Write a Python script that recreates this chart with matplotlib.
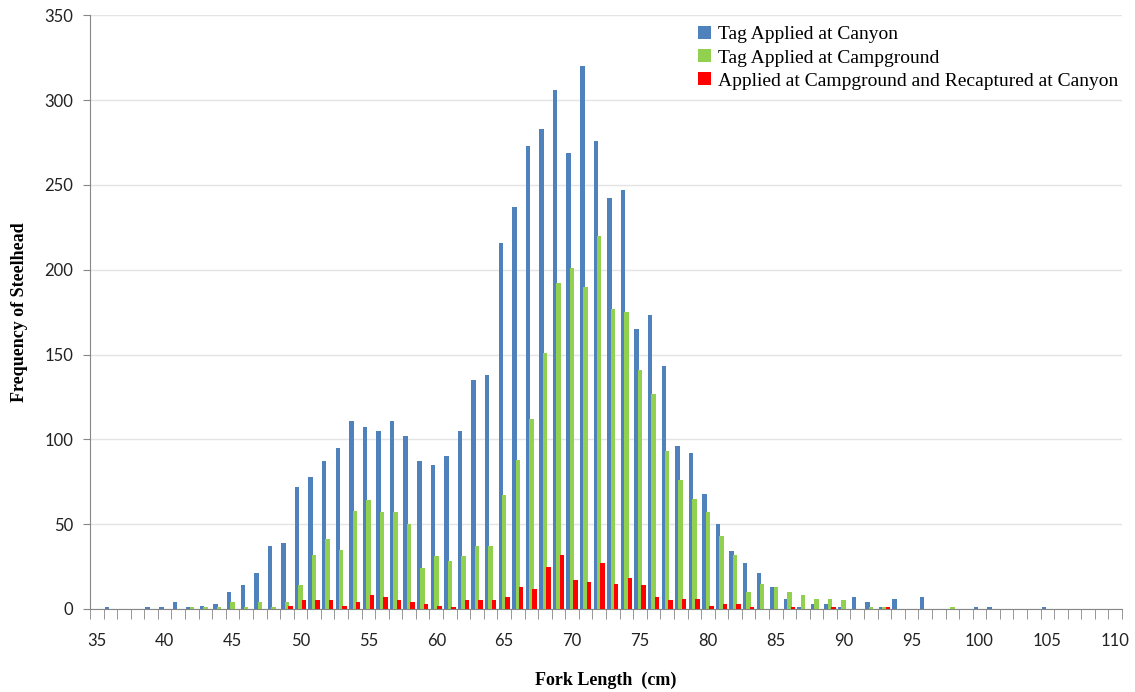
import numpy as np
import matplotlib.pyplot as plt

# fork length categories (cm)
lengths = list(range(35, 111))

# frequency per fork length
canyon = [0, 1, 0, 0, 1, 1, 4, 1, 2, 3,
          10, 14, 21, 37, 39, 72, 78, 87, 95, 111,
          107, 105, 111, 102, 87, 85, 90, 105, 135, 138,
          216, 237, 273, 283, 306, 269, 320, 276, 242, 247,
          165, 173, 143, 96, 92, 68, 50, 34, 27, 21,
          13, 6, 1, 3, 3, 1, 7, 4, 1, 6,
          0, 7, 0, 0, 0, 1, 1, 0, 0, 0,
          1, 0, 0, 0, 0, 0]
campground = [0, 0, 0, 0, 0, 0, 0, 1, 1, 1,
              4, 1, 4, 1, 4, 14, 32, 41, 35, 58,
              64, 57, 57, 50, 24, 31, 28, 31, 37, 37,
              67, 88, 112, 151, 192, 201, 190, 220, 177, 175,
              141, 127, 93, 76, 65, 57, 43, 32, 10, 15,
              13, 10, 8, 6, 6, 5, 0, 1, 1, 0,
              0, 0, 0, 1, 0, 0, 0, 0, 0, 0,
              0, 0, 0, 0, 0, 0]
recaptured = [0, 0, 0, 0, 0, 0, 0, 0, 0, 0,
              0, 0, 0, 0, 2, 5, 5, 5, 2, 4,
              8, 7, 5, 4, 3, 2, 1, 5, 5, 5,
              7, 13, 12, 25, 32, 17, 16, 27, 15, 18,
              14, 7, 5, 6, 6, 2, 3, 3, 1, 0,
              0, 1, 0, 0, 1, 0, 0, 0, 1, 0,
              0, 0, 0, 0, 0, 0, 0, 0, 0, 0,
              0, 0, 0, 0, 0, 0]

series_names = ["Tag Applied at Canyon",
                "Tag Applied at Campground",
                "Applied at Campground and Recaptured at Canyon"]
colors = ["#4F81BD", "#92D050", "#FF0000"]

x = np.arange(len(lengths))
w = 0.33
off = 0.25

fig = plt.figure(figsize=(11.35, 6.92), dpi=100)
ax = fig.add_axes([0.0793, 0.12, 0.9093, 0.858])

ax.bar(x - off, canyon, width=w, color=colors[0], label=series_names[0], zorder=2)
ax.bar(x, campground, width=w, color=colors[1], label=series_names[1], zorder=3)
ax.bar(x + off, recaptured, width=w, color=colors[2], label=series_names[2], zorder=4)

ax.set_xlim(-0.5, len(lengths) - 0.5)
ax.set_ylim(0, 350)
ax.set_yticks(range(0, 351, 50))
ax.yaxis.grid(True, color="#e4e4e4", linewidth=1, zorder=0)

# labels every 5 cm, tick marks between every category
ax.set_xticks(x[::5])
ax.set_xticklabels([str(v) for v in lengths[::5]])
ax.set_xticks(np.arange(len(lengths) + 1) - 0.5, minor=True)
ax.tick_params(axis="x", which="major", length=0, pad=17)
ax.tick_params(axis="x", which="minor", length=7, color="#868686")
ax.tick_params(axis="y", length=5, color="#868686", pad=7)

for lab in ax.get_xticklabels() + ax.get_yticklabels():
    lab.set_fontfamily("Lato")
    lab.set_fontsize(12)
    lab.set_color("#222222")

for s in ["top", "right"]:
    ax.spines[s].set_visible(False)
for s in ["left", "bottom"]:
    ax.spines[s].set_color("#868686")

ax.set_xlabel("Fork Length  (cm)", family="Liberation Serif", fontweight="bold",
              fontsize=13, labelpad=17)
ax.set_ylabel("Frequency of Steelhead", family="Liberation Serif", fontweight="bold",
              fontsize=13, labelpad=12)

leg = ax.legend(loc="upper right", bbox_to_anchor=(1.006, 0.998), frameon=False,
                prop={"family": "Liberation Serif", "size": 14},
                handlelength=0.65, handleheight=0.65, handletextpad=0.4,
                labelspacing=0.3, borderaxespad=0.1)

plt.savefig("out.png", dpi=100)
